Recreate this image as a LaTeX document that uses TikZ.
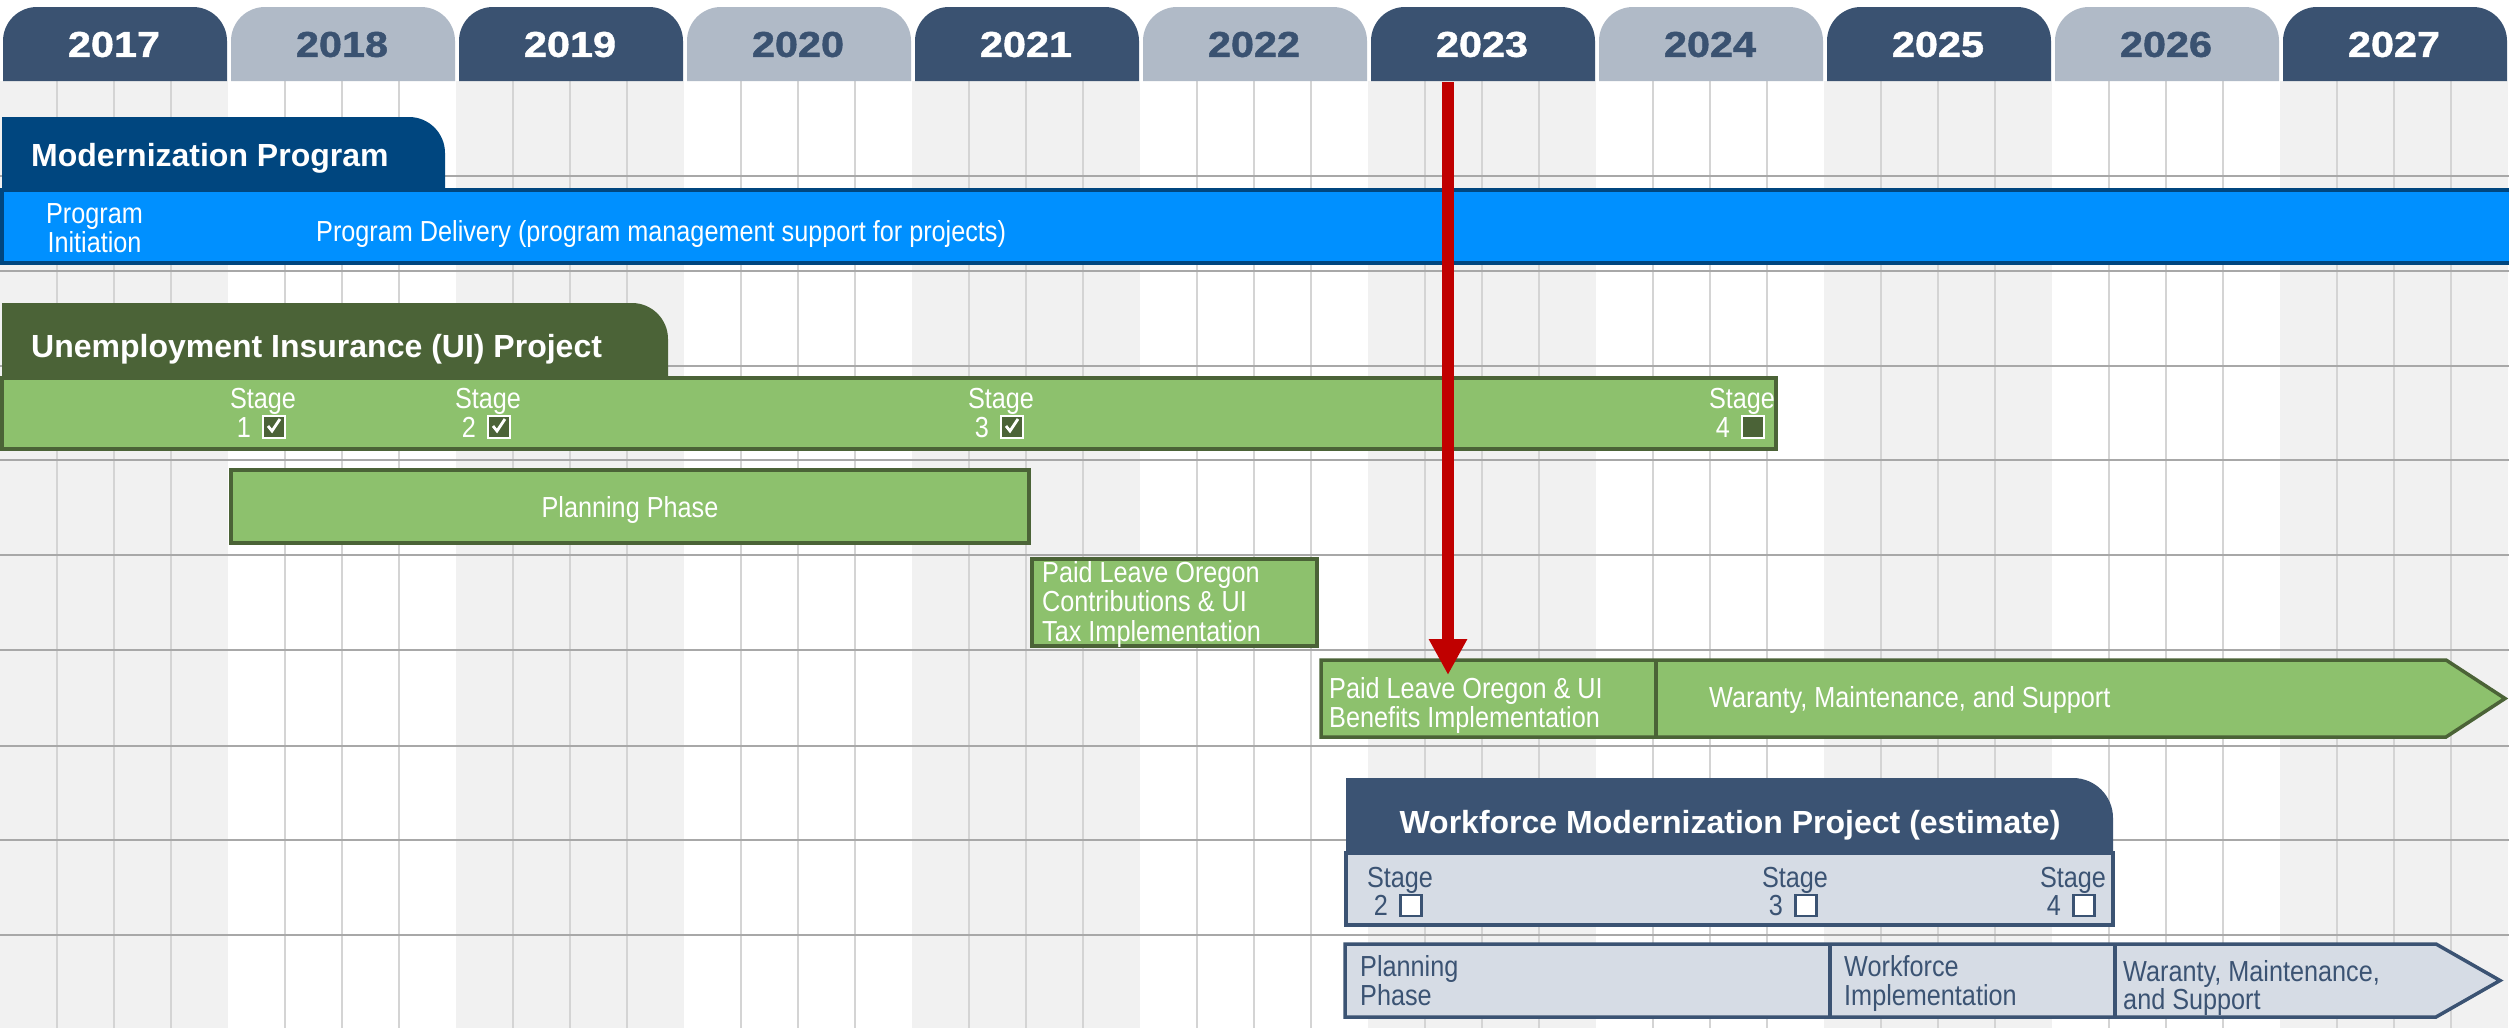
\documentclass[tikz,border=0pt]{standalone}
\usepackage{fontspec}
\setmainfont{Liberation Sans}
\newfontfamily\yearfont[FakeStretch=1.15,FakeBold=1.2]{Liberation Sans}
\newfontfamily\narrowfont[FakeStretch=0.87]{Liberation Sans}
\usetikzlibrary{arrows.meta}
\definecolor{tabdark}{HTML}{3A5271}
\definecolor{tablight}{HTML}{B0BAC7}
\definecolor{colgray}{HTML}{F1F1F1}
\definecolor{qline}{HTML}{D4D4D4}
\definecolor{rowline}{HTML}{A8A8A8}
\definecolor{mpdark}{HTML}{00467F}
\definecolor{mpblue}{HTML}{0090FF}
\definecolor{uidark}{HTML}{4B6337}
\definecolor{uigreen}{HTML}{8DC16D}
\definecolor{wfdark}{HTML}{3B5373}
\definecolor{wflight}{HTML}{D6DCE5}
\definecolor{todayred}{HTML}{C00000}
\newcommand{\uistage}[4]{%
  \node[wlbl, anchor=base] (#1s) at (#2,408) {Stage};
  \node[wlbl, anchor=base east] (#1d) at (#2-12,437) {#3};
  \node[#4] (#1b) at (#2+11,427) {};}
\newcommand{\wfstage}[3]{%
  \node[blbl, anchor=base] (#1s) at (#2,887) {Stage};
  \node[blbl, anchor=base east] (#1d) at (#2-12,915) {#3};
  \node[wfbox] (#1b) at (#2+11,905.5) {};}
\begin{document}
\begin{tikzpicture}[x=1pt,y=-1pt,
  yearlbl/.style={font=\yearfont\bfseries\fontsize{36}{36}\selectfont, inner sep=0pt, anchor=center},
  hdr/.style={font=\bfseries\fontsize{32}{32}\selectfont, text=white, inner sep=0pt, anchor=base west},
  lbl/.style={font=\narrowfont\fontsize{29}{29}\selectfont, inner sep=0pt},
  wlbl/.style={lbl, text=white},
  blbl/.style={lbl, text=wfdark},
  greenbar/.style={fill=uigreen, draw=uidark, line width=3.5pt},
  wfbar/.style={fill=wflight, draw=wfdark, line width=3.5pt},
  chkbox/.style={draw=white, fill=uidark, line width=2.5pt, minimum size=22pt, inner sep=0pt},
  chkdone/.style={chkbox, path picture={\draw[white, line width=2.8pt] ([xshift=-6pt,yshift=1pt]path picture bounding box.center) -- ++(4,5) -- ++(8,-12);}},
  wfbox/.style={draw=wfdark, fill=white, line width=2.5pt, minimum size=21pt, inner sep=0pt},
  todayarrow/.style={draw=todayred, line width=12pt, -{Triangle[width=36pt,length=36pt]}}
]
\useasboundingbox (0,0) rectangle (2509,1028);
\fill[white] (0,0) rectangle (2509,1028);
% column shading
\foreach \i in {0,2,...,10} \fill[colgray] (228*\i,81) rectangle ++(228,947);
% quarter lines
\foreach \i in {0,...,10} \foreach \k in {1,2,3} \draw[qline, line width=1.3pt] ({228*\i+57*\k},81) -- ++(0,947);
% row lines
\foreach \y in {176,271,366,460,555,650,746,840,935} \draw[rowline, line width=2.5pt] (0,\y) -- (2509,\y);
% year tabs
\foreach \i [evaluate=\i as \xa using 228*\i+3, evaluate=\i as \xb using 228*\i+227] in {0,...,10} {
  \ifodd\i
    \fill[tablight] (\xa,81) -- (\xa,41) arc[start angle=180,end angle=270,radius=34] -- (\xb-34,7) arc[start angle=270,end angle=360,radius=34] -- (\xb,81) -- cycle;
    \node[yearlbl, text=tabdark] (y\i) at (228*\i+114,44.5) {\the\numexpr2017+\i\relax};
  \else
    \fill[tabdark] (\xa,81) -- (\xa,41) arc[start angle=180,end angle=270,radius=34] -- (\xb-34,7) arc[start angle=270,end angle=360,radius=34] -- (\xb,81) -- cycle;
    \node[yearlbl, text=white] (y\i) at (228*\i+114,44.5) {\the\numexpr2017+\i\relax};
  \fi
}
% Modernization Program
\fill[mpdark] (2,191) -- (2,117) -- (409,117) arc[start angle=270,end angle=360,radius=36] -- (445,191) -- cycle;
\draw[fill=mpblue, draw=mpdark, line width=3.5pt] (2,190) rectangle (2520,263);
\node[hdr] (mphdr) at (31,166) {Modernization Program};
\node[wlbl, anchor=base] (pinit1) at (94.5,223) {Program};
\node[wlbl, anchor=base] (pinit2) at (94.5,252) {Initiation};
\node[wlbl, anchor=base west] (pdeliv) at (316,241) {Program Delivery (program management support for projects)};
% UI Project
\fill[uidark] (2,379) -- (2,303) -- (632,303) arc[start angle=270,end angle=360,radius=36] -- (668,379) -- cycle;
\draw[greenbar] (2,378) rectangle (1776,449);
\node[hdr] (uihdr) at (31,357) {Unemployment Insurance (UI) Project};
\uistage{ui1}{263}{1}{chkdone}
\uistage{ui2}{488}{2}{chkdone}
\uistage{ui3}{1001}{3}{chkdone}
\uistage{ui4}{1742}{4}{chkbox}
\draw[greenbar] (231,470) rectangle (1029,543);
\node[wlbl, anchor=base] (uiplan) at (630,517) {Planning Phase};
\draw[greenbar] (1032,559) rectangle (1317,646);
\node[wlbl, anchor=base west] (plo1) at (1042,582) {Paid Leave Oregon};
\node[wlbl, anchor=base west] (plo2) at (1042,611.5) {Contributions \& UI};
\node[wlbl, anchor=base west] (plo3) at (1042,641) {Tax Implementation};
\draw[greenbar] (1321,660) -- (2446,660) -- (2505,698.5) -- (2446,737) -- (1321,737) -- cycle;
\draw[uidark, line width=3.5pt] (1656,660) -- (1656,737);
\node[wlbl, anchor=base west] (ben1) at (1329,698) {Paid Leave Oregon \& UI};
\node[wlbl, anchor=base west] (ben2) at (1329,727) {Benefits Implementation};
\node[wlbl, anchor=base west] (uiwar) at (1709,707) {Waranty, Maintenance, and Support};
% Workforce Modernization Project
\fill[wfdark] (1346,854) -- (1346,778) -- (2073,778) arc[start angle=270,end angle=360,radius=40] -- (2113,854) -- cycle;
\draw[wfbar] (1346,853) rectangle (2113,925);
\node[hdr, anchor=base] (wfhdr) at (1730,833) {Workforce Modernization Project (estimate)};
\wfstage{wf2}{1400}{2}
\wfstage{wf3}{1795}{3}
\wfstage{wf4}{2073}{4}
\draw[wfbar] (1345,944) -- (2436,944) -- (2500,980.5) -- (2436,1017) -- (1345,1017) -- cycle;
\draw[wfdark, line width=3.5pt] (1830,944) -- (1830,1017);
\draw[wfdark, line width=3.5pt] (2115,944) -- (2115,1017);
\node[blbl, anchor=base west] (wfp1) at (1360,976) {Planning};
\node[blbl, anchor=base west] (wfp2) at (1360,1005) {Phase};
\node[blbl, anchor=base west] (wfi1) at (1844,976) {Workforce};
\node[blbl, anchor=base west] (wfi2) at (1844,1005) {Implementation};
\node[blbl, anchor=base west] (wfw1) at (2123,981) {Waranty, Maintenance,};
\node[blbl, anchor=base west] (wfw2) at (2123,1009) {and Support};
% today arrow
\coordinate (ttop) at (1448,82);
\coordinate (ttip) at (1448,675);
\draw[todayarrow] (ttop) -- (ttip);
\end{tikzpicture}
\end{document}
